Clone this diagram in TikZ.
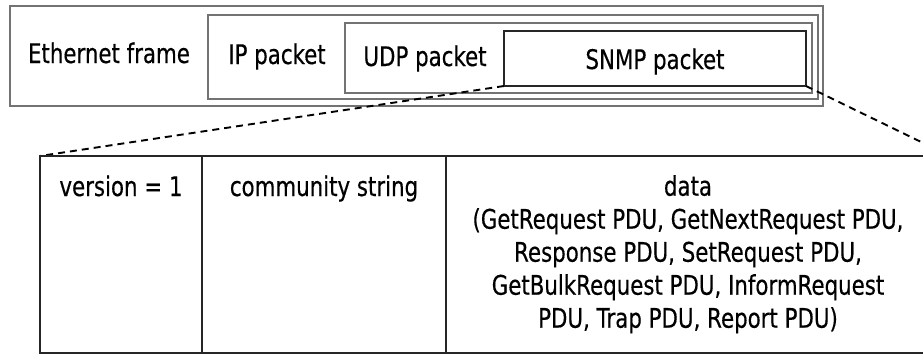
\documentclass[tikz,border=0pt]{standalone}
\usepackage{fontspec}
\setmainfont{DejaVu Sans}[FakeStretch=0.79,FakeBold=0.4]
\usepackage{tikz}

\begin{document}
\begin{tikzpicture}[x=1pt,y=-1pt,
  frame/.style={draw=black!55,line width=1.6pt},
  inner/.style={draw=black!85,line width=1.4pt},
  cell/.style={draw=black!85,line width=1.3pt},
  zoomline/.style={draw=black,line width=1.9pt,dash pattern=on 7pt off 5pt},
  lbl/.style={anchor=base,inner sep=0pt},
  font=\fontsize{27}{33}\selectfont]
\useasboundingbox (0,0) rectangle (923,354);
\clip (0,0) rectangle (923,354);
% the nested packets
\draw[frame] (10,6) rectangle (823,106);
\draw[frame] (208,15) rectangle (818,99);
\draw[frame] (345,23) rectangle (812,93);
\draw[inner] (504,31) rectangle (806,86);
\node[lbl] (eth) at (109,63) {Ethernet frame};
\node[lbl] (ip) at (277,64) {IP packet};
\node[lbl] (udp) at (425,66) {UDP packet};
\node[lbl] (snmp) at (655,69) {SNMP packet};
% corners for the zoom lines
\coordinate (snmp-sw) at (504,86);
\coordinate (snmp-se) at (806,86);
\coordinate (pdu-nw) at (40,156);
\coordinate (pdu-ne) at (950,156);
\draw[zoomline] (snmp-sw) -- (pdu-nw);
\draw[zoomline] (snmp-se) -- (pdu-ne);
% the SNMP message
\draw[cell] (pdu-nw) rectangle (950,353);
\draw[cell] (202,156) -- (202,353);
\draw[cell] (446,156) -- (446,353);
\node[lbl] (version) at (121,196) {version = 1};
\node[lbl] (community) at (324,196) {community string};
\node[anchor=north,inner sep=0pt,align=center] (data) at (688,175)
  {data\\(GetRequest PDU, GetNextRequest PDU,\\Response PDU, SetRequest PDU,\\GetBulkRequest PDU, InformRequest\\PDU, Trap PDU, Report PDU)};
\end{tikzpicture}
\end{document}
